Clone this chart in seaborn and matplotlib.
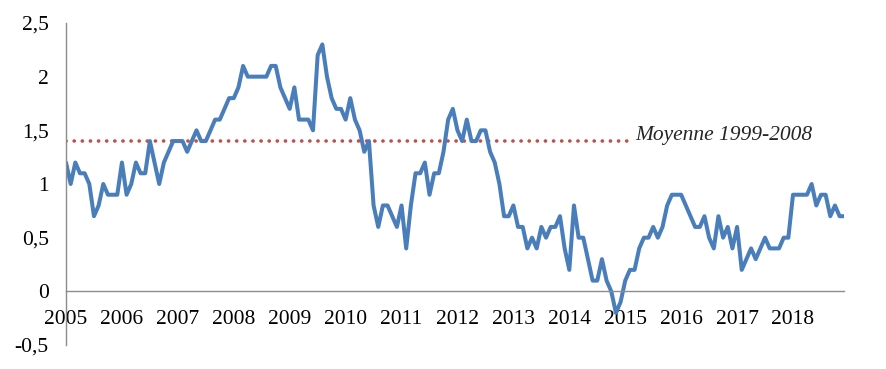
import pandas as pd
import matplotlib.pyplot as plt
import seaborn as sns

# Monthly values, Jan 2005 -> Dec 2018
years = [str(y) for y in range(2005, 2019)]
values = [
    1.2, 1.0, 1.2, 1.1, 1.1, 1.0, 0.7, 0.8, 1.0, 0.9, 0.9, 0.9,   # 2005
    1.2, 0.9, 1.0, 1.2, 1.1, 1.1, 1.4, 1.2, 1.0, 1.2, 1.3, 1.4,   # 2006
    1.4, 1.4, 1.3, 1.4, 1.5, 1.4, 1.4, 1.5, 1.6, 1.6, 1.7, 1.8,   # 2007
    1.8, 1.9, 2.1, 2.0, 2.0, 2.0, 2.0, 2.0, 2.1, 2.1, 1.9, 1.8,   # 2008
    1.7, 1.9, 1.6, 1.6, 1.6, 1.5, 2.2, 2.3, 2.0, 1.8, 1.7, 1.7,   # 2009
    1.6, 1.8, 1.6, 1.5, 1.3, 1.4, 0.8, 0.6, 0.8, 0.8, 0.7, 0.6,   # 2010
    0.8, 0.4, 0.8, 1.1, 1.1, 1.2, 0.9, 1.1, 1.1, 1.3, 1.6, 1.7,   # 2011
    1.5, 1.4, 1.6, 1.4, 1.4, 1.5, 1.5, 1.3, 1.2, 1.0, 0.7, 0.7,   # 2012
    0.8, 0.6, 0.6, 0.4, 0.5, 0.4, 0.6, 0.5, 0.6, 0.6, 0.7, 0.4,   # 2013
    0.2, 0.8, 0.5, 0.5, 0.3, 0.1, 0.1, 0.3, 0.1, 0.0, -0.2, -0.1, # 2014
    0.1, 0.2, 0.2, 0.4, 0.5, 0.5, 0.6, 0.5, 0.6, 0.8, 0.9, 0.9,   # 2015
    0.9, 0.8, 0.7, 0.6, 0.6, 0.7, 0.5, 0.4, 0.7, 0.5, 0.6, 0.4,   # 2016
    0.6, 0.2, 0.3, 0.4, 0.3, 0.4, 0.5, 0.4, 0.4, 0.4, 0.5, 0.5,   # 2017
    0.9, 0.9, 0.9, 0.9, 1.0, 0.8, 0.9, 0.9, 0.7, 0.8, 0.7, 0.7,   # 2018
]
avg_value = 1.4
avg_months = 122          # the average line stops early in 2015
avg_label = "Moyenne 1999-2008"

df = pd.DataFrame({"month": range(len(values)), "value": values})
avg_df = pd.DataFrame({"month": range(avg_months), "value": [avg_value] * avg_months})

sns.set_style("white")
plt.rcParams["font.family"] = ["Liberation Serif", "DejaVu Serif"]

fig = plt.figure(figsize=(8.86, 3.69), dpi=100)
ax = fig.add_axes([0.0745, 0.065, 0.8784, 0.8727])

sns.lineplot(data=avg_df, x="month", y="value", ax=ax, color="#C0504D",
             lw=2.6, linestyle=(0, (0.05, 2.2)), dash_capstyle="round")
sns.lineplot(data=df, x="month", y="value", ax=ax, color="#4A7EBB", lw=2.9)

ax.text(avg_months + 0.1, avg_value + 0.05, avg_label, fontsize=15.5,
        style="italic", va="center", ha="left")

ax.set_xlim(0, len(values) - 1)
ax.set_ylim(-0.5, 2.5)
ax.set_yticks([-0.5, 0, 0.5, 1, 1.5, 2, 2.5])
ax.set_yticklabels([f"{v:g}".replace(".", ",") for v in ax.get_yticks()])
ax.set_xticks(list(range(0, len(values), 12)) + [len(values) - 1])
ax.set_xticklabels(years + [""])
ax.set_xlabel("")
ax.set_ylabel("")

for side in ["top", "right"]:
    ax.spines[side].set_visible(False)
ax.spines["bottom"].set_position(("data", 0))
for side in ["left", "bottom"]:
    ax.spines[side].set_color("#8C8C8C")
    ax.spines[side].set_linewidth(1.0)

ax.tick_params(axis="both", direction="out", length=4.5, width=1.0,
               color="#8C8C8C", labelsize=15.5, labelcolor="black")
ax.tick_params(axis="y", pad=8)
ax.tick_params(axis="x", pad=9)
ax.grid(False)

fig.savefig("out.png", dpi=100)
